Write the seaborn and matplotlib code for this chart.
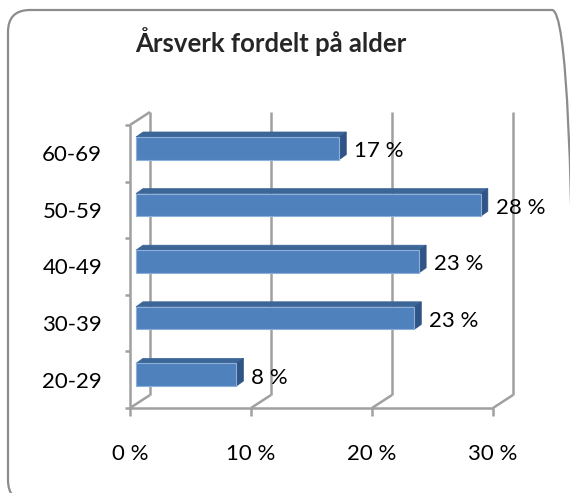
import numpy as np
import pandas as pd
import matplotlib
matplotlib.use("Agg")
import matplotlib.pyplot as plt
import seaborn as sns
from matplotlib.patches import Polygon, FancyBboxPatch
from matplotlib.transforms import ScaledTranslation

# data
age_groups = ["60-69", "50-59", "40-49", "30-39", "20-29"]
shares = [16.8, 28.5, 23.4, 23.0, 8.3]
share_labels = ["17 %", "28 %", "23 %", "23 %", "8 %"]
x_ticks = [0, 10, 20, 30]
x_tick_labels = ["0 %", "10 %", "20 %", "30 %"]

FRONT = "#4F81BD"
TOP = "#3D6698"
SIDE = "#2F5485"
GRID = "#A0A0A0"

sns.set_theme(style="white")
plt.rcParams["font.family"] = ["Lato", "DejaVu Sans"]

W, H = 570, 493
fig = plt.figure(figsize=(W / 100, H / 100), dpi=100)

# rounded chart border (in inches so the corners stay round)
fig.patches.append(FancyBboxPatch((0.08, -0.09), 5.66, 4.92,
                                  boxstyle="round,pad=0,rounding_size=0.22",
                                  transform=fig.dpi_scale_trans, fill=False,
                                  edgecolor="#8C8C8C", linewidth=1.6))

# front plane of the 3d box: x 130..493 px, y 125..408 px (from top)
ax = fig.add_axes([130 / W, (H - 408) / H, 363 / W, 283 / H])

df = pd.DataFrame({"age": age_groups, "share": shares})
sns.barplot(data=df, x="share", y="age", order=age_groups, orient="h",
            width=0.4, color=FRONT, saturation=1, ax=ax)
ax.set_xlim(0, 30)
ax.set_ylim(4.5, -0.5)
for s in ax.spines.values():
    s.set_visible(False)
ax.set_xlabel("")
ax.set_ylabel("")

dx, dy = 20, 13          # depth of the box in pixels
bx, by = 6, 5            # bar front face offset
tx, ty = 7, 5            # bar depth

to_px = ax.transData.transform
to_data = ax.transData.inverted().transform


def px_line(p0, p1, **kw):
    pts = to_data(np.array([p0, p1]))
    ax.plot(pts[:, 0], pts[:, 1], clip_on=False, **kw)


line_kw = dict(color=GRID, lw=1.8, solid_capstyle="butt", zorder=0)
# back gridlines, floor diagonals and tick marks
for xv in x_ticks:
    f = to_px((xv, 4.5))
    px_line(f, (f[0] + dx, f[1] + dy), **line_kw)
    px_line((f[0] + dx, f[1] + dy), (f[0] + dx, to_px((0, -0.5))[1] + dy), **line_kw)
    px_line(f, (f[0], f[1] - 8), **line_kw)
# front floor line and left wall
f0, f1 = to_px((0, 4.5)), to_px((30, 4.5))
px_line(f0, f1, **line_kw)
w_top = to_px((0, -0.5))
px_line(f0, w_top, **line_kw)
px_line(w_top, (w_top[0] + dx, w_top[1] + dy), **line_kw)
for b in np.arange(-0.5, 5, 1):
    p = to_px((0, b))
    px_line((p[0] - 5, p[1]), p, **line_kw)

# shift bars to the middle of the box and give them depth
shift = ScaledTranslation(bx / 100, by / 100, fig.dpi_scale_trans)
for bar in ax.patches:
    x0, y0 = bar.get_x(), bar.get_y()
    w, h = bar.get_width(), bar.get_height()
    bar.set_transform(ax.transData + shift)
    bar.set_edgecolor("#8DB0DA")
    bar.set_linewidth(0.8)
    bar.set_zorder(3)
    a = to_px((x0, y0)) + [bx, by]        # top-left (y inverted axis: y0 is top)
    b = to_px((x0 + w, y0)) + [bx, by]
    c = to_px((x0 + w, y0 + h)) + [bx, by]
    top = [a, b, b + [tx, ty], a + [tx, ty]]
    side = [b, c, c + [tx, ty], b + [tx, ty]]
    ax.add_patch(Polygon(to_data(np.array(top)), closed=True, facecolor=TOP,
                         edgecolor=TOP, lw=0.5, zorder=2, clip_on=False))
    ax.add_patch(Polygon(to_data(np.array(side)), closed=True, facecolor=SIDE,
                         edgecolor=SIDE, lw=0.5, zorder=2, clip_on=False))

for i, (v, lab) in enumerate(zip(shares, share_labels)):
    ax.annotate(lab, (v, i), xytext=(bx + 15, 2), textcoords="offset pixels",
                ha="left", va="center", fontsize=16, color="black")

ax.set_xticks(x_ticks)
ax.set_xticklabels(x_tick_labels)
ax.set_yticks(range(len(age_groups)))
ax.set_yticklabels(age_groups)
ax.tick_params(axis="x", length=0, pad=26, labelsize=16, colors="black")
ax.tick_params(axis="y", length=0, pad=20, labelsize=16, colors="black")

fig.text(271 / W, 1 - 42 / H, "Årsverk fordelt på alder", ha="center", va="center",
         fontsize=18.5, fontweight="bold")

fig.savefig("out.png", dpi=100)
